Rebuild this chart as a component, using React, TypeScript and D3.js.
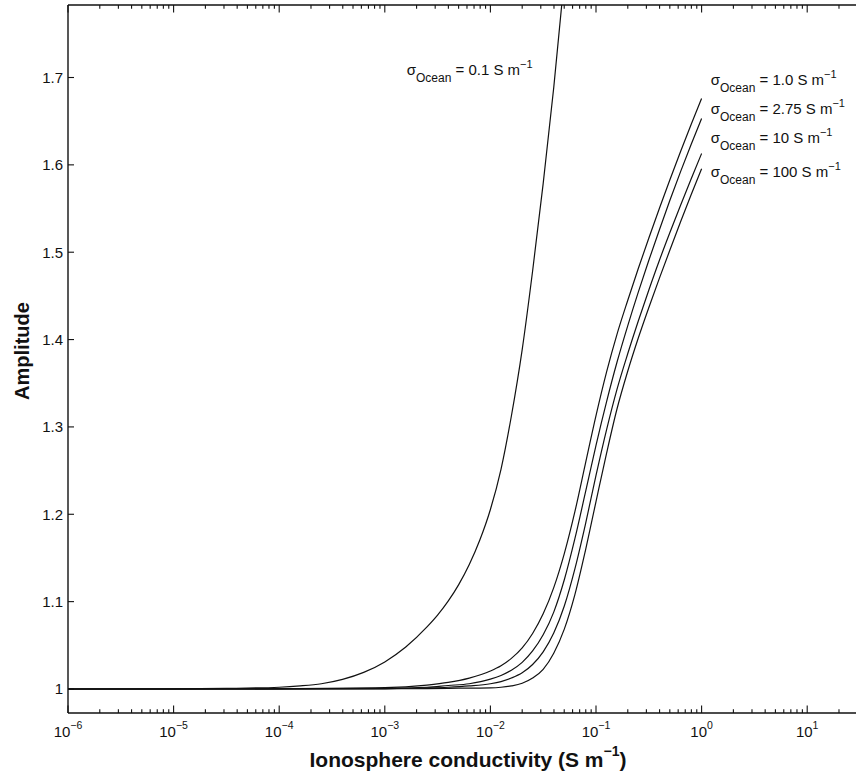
import React from "react";
import * as d3 from "d3";

// ---------- data ----------
const seriesLabels = ["0.1", "1.0", "2.75", "10", "100"];

// sigma_ocean = 0.1 S/m : ionosphere conductivity (S/m) and amplitude
const cond01 = [1e-6, 1e-5, 3.16e-5, 1e-4, 1.58e-4, 2.51e-4, 3.98e-4, 6.31e-4, 1e-3, 1.58e-3, 2.51e-3, 3.16e-3, 3.98e-3, 5.01e-3, 6.31e-3, 7.94e-3, 1e-2, 1.26e-2, 1.58e-2, 2.0e-2, 2.51e-2, 3.16e-2, 3.98e-2, 5.01e-2];
const amp01 = [1.0, 1.0002, 1.0007, 1.002, 1.0035, 1.006, 1.011, 1.019, 1.031, 1.048, 1.071, 1.0845, 1.1005, 1.1195, 1.1425, 1.1705, 1.2055, 1.2515, 1.3125, 1.3885, 1.4785, 1.5785, 1.6885, 1.8135];

// shared conductivity samples (S/m) for the other four curves
const condGrid = [1e-6, 1e-5, 1e-4, 1e-3, 2.51e-3, 3.98e-3, 6.31e-3, 1e-2, 1.26e-2, 1.58e-2, 2.0e-2, 2.51e-2, 3.16e-2, 3.98e-2, 5.01e-2, 6.31e-2, 7.94e-2, 0.1, 0.126, 0.158, 0.2, 0.251, 0.316, 0.398, 0.501, 0.631, 0.794, 1.0];
// sigma_ocean = 1.0 S/m
const amp1 = [1.0, 1.0, 1.0003, 1.0015, 1.0045, 1.0075, 1.0125, 1.0205, 1.0265, 1.035, 1.047, 1.0635, 1.086, 1.116, 1.155, 1.203, 1.258, 1.313, 1.363, 1.406, 1.445, 1.481, 1.516, 1.55, 1.583, 1.615, 1.646, 1.676];
// sigma_ocean = 2.75 S/m
const amp275 = [1.0, 1.0, 1.0002, 1.0008, 1.002, 1.004, 1.006, 1.0112, 1.0155, 1.0215, 1.0305, 1.0435, 1.062, 1.088, 1.125, 1.172, 1.225, 1.279, 1.329, 1.374, 1.416, 1.454, 1.4905, 1.5255, 1.5595, 1.592, 1.623, 1.653];
// sigma_ocean = 10 S/m
const amp10 = [1.0, 1.0, 1.0001, 1.0005, 1.0012, 1.002, 1.0035, 1.006, 1.0085, 1.0125, 1.0185, 1.028, 1.0425, 1.064, 1.095, 1.1375, 1.1885, 1.2445, 1.297, 1.343, 1.384, 1.421, 1.4565, 1.4905, 1.5225, 1.5535, 1.5835, 1.613];
// sigma_ocean = 100 S/m
const amp100 = [1.0, 1.0, 1.0, 1.0002, 1.0005, 1.0008, 1.001, 1.0013, 1.002, 1.0035, 1.0065, 1.0125, 1.0225, 1.041, 1.0685, 1.108, 1.1585, 1.2145, 1.27, 1.3205, 1.364, 1.4015, 1.4365, 1.47, 1.5025, 1.5345, 1.5655, 1.5955];

const yTickValues = [1, 1.1, 1.2, 1.3, 1.4, 1.5, 1.6, 1.7];
const yTickLabels = ["1", "1.1", "1.2", "1.3", "1.4", "1.5", "1.6", "1.7"];
const xDecadeExponents = [-6, -5, -4, -3, -2, -1, 0, 1];

const xTitle = "Ionosphere conductivity (S m";
const yTitle = "Amplitude";

// ---------- layout ----------
const W = 856;
const H = 773;
const left = 68;
const top = 5;
const bottom = 713;
const decadePx = 105.6;
const FONT = "'Liberation Sans', Arial, Helvetica, sans-serif";

export default function App() {
  const x = d3.scaleLog().domain([1e-6, 1e2]).range([left, left + 8 * decadePx]);
  const y = d3.scaleLinear().domain([0.9725, 1.783]).range([bottom, top]);

  const line = d3
    .line<[number, number]>()
    .x((d) => x(d[0]))
    .y((d) => y(d[1]))
    .curve(d3.curveMonotoneX);

  const series = [
    { c: cond01, a: amp01 },
    { c: condGrid, a: amp1 },
    { c: condGrid, a: amp275 },
    { c: condGrid, a: amp10 },
    { c: condGrid, a: amp100 },
  ];

  const majorTicks: number[] = [];
  const minorTicks: number[] = [];
  for (let e = -6; e <= 1; e++) {
    majorTicks.push(Math.pow(10, e));
    for (let m = 2; m <= 9; m++) minorTicks.push(m * Math.pow(10, e));
  }

  const labelPos = [
    { x: 406.7, y: 75 },
    { x: 710.7, y: 85 },
    { x: 710.7, y: 113.5 },
    { x: 710.7, y: 142.5 },
    { x: 710.7, y: 177 },
  ];

  const stroke = "#111";

  return (
    <svg
      width={W}
      height={H}
      style={{ position: "absolute", left: 0, top: 0, background: "#fff" }}
      fontFamily={FONT}
    >
      <defs>
        <clipPath id="plotClip">
          <rect x={left} y={top} width={W - left + 60} height={bottom - top} />
        </clipPath>
      </defs>
      <rect x={0} y={0} width={W} height={H} fill="#fff" />

      {/* curves */}
      <g clipPath="url(#plotClip)" fill="none" stroke={stroke} strokeWidth={1.2}>
        {series.map((s, i) => (
          <path
            key={i}
            d={line(s.c.map((c, j) => [c, s.a[j]] as [number, number])) || ""}
          />
        ))}
      </g>

      {/* frame */}
      <g stroke={stroke} strokeWidth={1.4} fill="none">
        <line x1={left} y1={top} x2={W + 2} y2={top} />
        <line x1={left} y1={bottom} x2={W + 2} y2={bottom} />
        <line x1={left} y1={top} x2={left} y2={bottom} />
      </g>

      {/* ticks */}
      <g stroke={stroke} strokeWidth={1.1}>
        {majorTicks.map((t, i) => (
          <g key={"M" + i}>
            <line x1={x(t)} x2={x(t)} y1={bottom} y2={bottom - 7.5} />
            <line x1={x(t)} x2={x(t)} y1={top} y2={top + 7.5} />
          </g>
        ))}
        {minorTicks.map((t, i) => (
          <g key={"m" + i}>
            <line x1={x(t)} x2={x(t)} y1={bottom} y2={bottom - 3.8} />
            <line x1={x(t)} x2={x(t)} y1={top} y2={top + 3.8} />
          </g>
        ))}
        {yTickValues.map((v, i) => (
          <line key={"y" + i} x1={left} x2={left + 6} y1={y(v)} y2={y(v)} />
        ))}
      </g>

      {/* x tick labels */}
      <g fontSize={15} fill="#111">
        {xDecadeExponents.map((e, i) => (
          <text key={i} x={x(Math.pow(10, e))} y={737} textAnchor="middle">
            <tspan>10</tspan>
            <tspan fontSize={10.5} dy={-8}>
              {e < 0 ? "\u2212" + Math.abs(e) : String(e)}
            </tspan>
          </text>
        ))}
      </g>

      {/* y tick labels */}
      <g fontSize={15} fill="#111" textAnchor="end">
        {yTickValues.map((v, i) => (
          <text key={i} x={63} y={y(v) + 5.3}>
            {yTickLabels[i]}
          </text>
        ))}
      </g>

      {/* axis titles */}
      <text x={468} y={767} fontSize={21} fontWeight="bold" textAnchor="middle" fill="#111">
        <tspan>{xTitle}</tspan>
        <tspan fontSize={14} dy={-11}>{"\u22121"}</tspan>
        <tspan dy={11}>)</tspan>
      </text>
      <text
        transform="translate(29,351) rotate(-90)"
        fontSize={20}
        fontWeight="bold"
        textAnchor="middle"
        fill="#111"
      >
        {yTitle}
      </text>

      {/* series labels */}
      <g fill="#111">
        {seriesLabels.map((lab, i) => (
          <text key={i} x={labelPos[i].x} y={labelPos[i].y} fontSize={15}>
            <tspan>σ</tspan>
            <tspan fontSize={12} dy={7}>Ocean</tspan>
            <tspan dy={-7}>{" = " + lab + " S m"}</tspan>
            <tspan fontSize={11} dy={-7}>{"\u22121"}</tspan>
          </text>
        ))}
      </g>
    </svg>
  );
}
